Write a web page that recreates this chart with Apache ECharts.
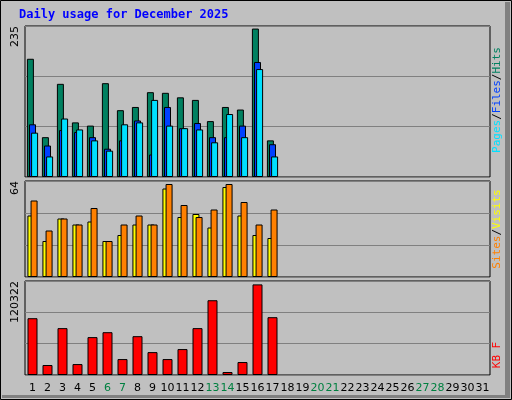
<!DOCTYPE html>
<html>
<head>
<meta charset="utf-8">
<script src="https://cdn.jsdelivr.net/npm/echarts@6/dist/echarts.min.js"></script>
<style>
	html, body { margin: 0; padding: 0; background: #c0c0c0; }
	#chart { width: 512px; height: 400px; }
</style>
</head>
<body>
<div id="chart"></div>
<script type="text/javascript">
// days of the month
var days = [];
for (var i = 1; i <= 31; i++) { days.push(String(i)); }
var weekendDays = ['6', '7', '13', '14', '20', '21', '27', '28'];

// top panel
var hits  = [184, 62, 145, 85, 80, 146, 104, 109, 132, 131, 124, 120, 87, 109, 105, 231, 57];
var files = [82, 49, 73, 70, 62, 44, 57, 88, 35, 109, 76, 84, 62, 62, 80, 179, 51];
var pages = [69, 32, 91, 74, 57, 41, 82, 85, 120, 80, 76, 74, 54, 98, 62, 168, 32];
var topMax = 235;

// middle panel
var visits = [41, 24, 39, 35, 37, 24, 28, 35, 35, 59, 40, 42, 33, 60, 41, 28, 26];
var sites  = [51, 31, 39, 35, 46, 24, 35, 41, 35, 62, 48, 40, 45, 62, 50, 35, 45];
var midMax = 64;

// bottom panel
var kbytes = [72700, 12800, 60000, 14000, 48500, 54800, 20400, 49700, 29300, 20400, 33200, 60000, 95700, 3800, 16600, 116000, 74000];
var botMax = 120322;

var border = { borderColor: '#000', borderWidth: 1 };

function yAxisFor(idx, max) {
	return {
		gridIndex: idx, min: 0, max: max, interval: max / 3,
		axisLine: { show: false }, axisTick: { show: false },
		splitLine: { lineStyle: { color: '#808080', width: 1 } },
		axisLabel: {
			rotate: 90, margin: 4, color: '#000', fontFamily: 'DejaVu Sans', fontSize: 11,
			verticalAlign: 'bottom', align: 'right',
			formatter: function (v) { return v === max ? String(max) : ''; }
		}
	};
}
function xAxisFor(idx, showLabels) {
	return {
		gridIndex: idx, type: 'category', data: days,
		axisLine: { show: false }, axisTick: { show: false },
		axisLabel: showLabels ? {
			interval: 0, margin: 8, fontFamily: 'DejaVu Sans', fontSize: 11,
			formatter: function (v) { return weekendDays.indexOf(v) >= 0 ? '{we|' + v + '}' : '{wd|' + v + '}'; },
			rich: { we: { color: '#008040', fontSize: 11 }, wd: { color: '#000', fontSize: 11 } }
		} : { show: false }
	};
}
function bar(name, x, data, color, width, gap) {
	var s = { name: name, type: 'bar', xAxisIndex: x, yAxisIndex: x, data: data,
		barWidth: width, itemStyle: { color: color, borderColor: '#000', borderWidth: 1 } };
	if (gap !== undefined) { s.barGap = gap; }
	return s;
}
function sideLabel(y, parts) {
	var text = parts.map(function (p) { return '{' + p[0] + '|' + p[1] + '}'; }).join('');
	var rich = {};
	parts.forEach(function (p) { rich[p[0]] = { fill: p[2], fontFamily: 'DejaVu Sans Mono', fontSize: 11 }; });
	return { type: 'text', x: 497, y: y, rotation: Math.PI / 2,
		style: { text: text, rich: rich, align: 'center', verticalAlign: 'middle' } };
}

var myChart = echarts.init(document.getElementById('chart'));
myChart.setOption({
	backgroundColor: '#c0c0c0',
	animation: false,
	grid: [
		Object.assign({ left: 25, width: 465, top: 26, height: 151, show: true, backgroundColor: '#c0c0c0' }, border),
		Object.assign({ left: 25, width: 465, top: 181, height: 96, show: true, backgroundColor: '#c0c0c0' }, border),
		Object.assign({ left: 25, width: 465, top: 281, height: 94, show: true, backgroundColor: '#c0c0c0' }, border)
	],
	xAxis: [xAxisFor(0, false), xAxisFor(1, false), xAxisFor(2, true)],
	yAxis: [yAxisFor(0, topMax), yAxisFor(1, midMax), yAxisFor(2, botMax)],
	series: [
		bar('Hits', 0, hits, '#008060', 7, '-70%'),
		bar('Files', 0, files, '#0040ff', 7, '-70%'),
		bar('Pages', 0, pages, '#00e0ff', 7, '-70%'),
		bar('Visits', 1, visits, '#ffff00', 7, '-55%'),
		bar('Sites', 1, sites, '#ff8000', 7, '-55%'),
		bar('KB F', 2, kbytes, '#ff0000', 10)
	],
	graphic: [
		{ type: 'rect', shape: { x: 0.5, y: 0.5, width: 511, height: 399 }, style: { fill: 'none', stroke: '#000', lineWidth: 1 } },
		{ type: 'rect', shape: { x: 505, y: 2, width: 5, height: 396 }, style: { fill: '#808080' } },
		{ type: 'rect', shape: { x: 2, y: 395, width: 508, height: 3 }, style: { fill: '#808080' } },
		{ type: 'text', x: 19, y: 9, style: { text: 'Daily usage for December 2025', fill: '#0000ff',
			fontFamily: 'DejaVu Sans Mono', fontWeight: 'bold', fontSize: 12 } },
		sideLabel(100, [['a', 'Pages', '#00e0ff'], ['s1', '/', '#000'], ['b', 'Files', '#0040ff'], ['s2', '/', '#000'], ['c', 'Hits', '#008060']]),
		sideLabel(229, [['a', 'Sites', '#ff8000'], ['s1', '/', '#000'], ['b', 'Visits', '#ffff00']]),
		sideLabel(355, [['a', 'KB F', '#ff0000']])
	]
});
</script>
</body>
</html>
